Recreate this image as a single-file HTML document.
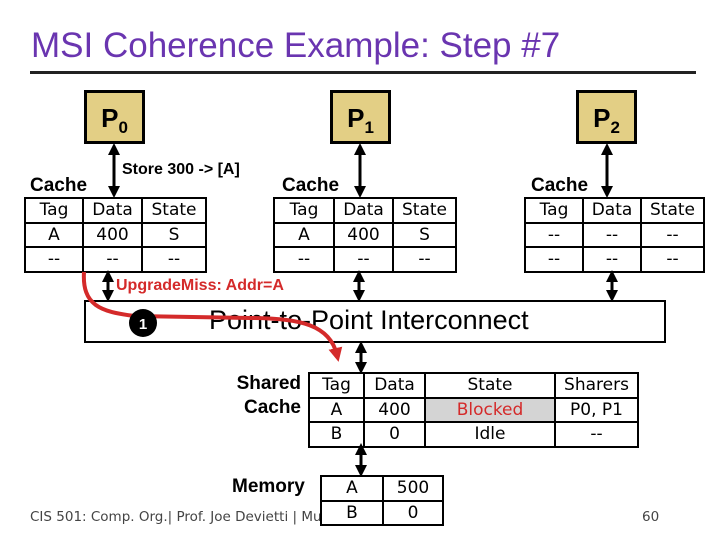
<!DOCTYPE html>
<html><head><style>
body{margin:0;width:720px;height:540px;background:#fff;position:relative;overflow:hidden;font-family:"DejaVu Sans","Liberation Sans",sans-serif}
.a{position:absolute}
.t{position:absolute;border-collapse:collapse;table-layout:fixed}
.t td{border:2px solid #000;text-align:center;font-size:17px;height:20px;padding:0;line-height:20px}
.t tr{height:24.5px}
.b{font-family:"Liberation Sans",sans-serif;font-weight:bold}
.p{position:absolute;background:#e3cf85;border:3px solid #000;box-sizing:border-box;width:61px;height:54px;font:bold 26px "Liberation Sans",sans-serif;text-align:center;line-height:50px}
.p sub{font-size:17px}
</style></head><body>
<div class="a" style="left:31px;top:26px;font:35px 'Liberation Sans',sans-serif;color:#6a35b0">MSI Coherence Example: Step #7</div>
<div class="a" style="left:30px;top:71px;width:666px;height:3px;background:#222"></div>
<div class="p" style="left:84px;top:90px">P<sub>0</sub></div>
<div class="p" style="left:330px;top:90px">P<sub>1</sub></div>
<div class="p" style="left:576px;top:90px">P<sub>2</sub></div>
<div class="a b" style="left:122px;top:161px;font-size:16px">Store 300 -&gt; [A]</div>
<div class="a b" style="left:30px;top:175px;font-size:19px">Cache</div>
<div class="a b" style="left:282px;top:175px;font-size:19px">Cache</div>
<div class="a b" style="left:531px;top:175px;font-size:19px">Cache</div>
<table class="t" style="left:24px;top:197px;width:181px"><col width="58"><col width="59"><col width="64">
<tr><td>Tag</td><td>Data</td><td>State</td></tr><tr><td>A</td><td>400</td><td>S</td></tr><tr><td>--</td><td>--</td><td>--</td></tr></table>
<table class="t" style="left:273px;top:197px;width:182px"><col width="60"><col width="59"><col width="63">
<tr><td>Tag</td><td>Data</td><td>State</td></tr><tr><td>A</td><td>400</td><td>S</td></tr><tr><td>--</td><td>--</td><td>--</td></tr></table>
<table class="t" style="left:524px;top:197px;width:179px"><col width="58"><col width="58"><col width="63">
<tr><td>Tag</td><td>Data</td><td>State</td></tr><tr><td>--</td><td>--</td><td>--</td></tr><tr><td>--</td><td>--</td><td>--</td></tr></table>
<div class="a b" style="left:116px;top:277px;font-size:16px;color:#d42a2a">UpgradeMiss: Addr=A</div>
<div class="a" style="left:84px;top:300px;width:582px;height:43px;border:2px solid #000;box-sizing:border-box"></div>
<div class="a" style="left:209px;top:305px;font:27px 'Liberation Sans',sans-serif">Point-to-Point Interconnect</div>
<div class="a b" style="left:230px;top:372px;font-size:19px;text-align:right;width:71px;line-height:24px">Shared<br>Cache</div>
<table class="t" style="left:308px;top:372px;width:329px"><col width="55"><col width="61"><col width="130"><col width="83">
<tr><td>Tag</td><td>Data</td><td>State</td><td>Sharers</td></tr>
<tr><td>A</td><td>400</td><td style="background:#d4d4d4;color:#d42a2a">Blocked</td><td>P0, P1</td></tr>
<tr><td>B</td><td>0</td><td>Idle</td><td>--</td></tr></table>
<div class="a" style="left:30px;top:509px;font-size:13.5px;color:#444">CIS 501: Comp. Org.| Prof. Joe Devietti | Mu</div>
<div class="a" style="left:642px;top:509px;font-size:13.5px;color:#444">60</div>
<div class="a b" style="left:232px;top:476px;font-size:19px">Memory</div>
<table class="t" style="left:320px;top:475px;width:122px;background:#fff"><col width="62"><col width="60">
<tr><td>A</td><td>500</td></tr><tr><td>B</td><td>0</td></tr></table>
<svg class="a" style="left:0;top:0" width="720" height="540">
<defs><marker id="h" viewBox="0 0 10 10" refX="5" refY="5" markerWidth="4" markerHeight="4" orient="auto-start-reverse"><path d="M0,0L10,5L0,10z" fill="#000"/></marker>
<marker id="r" viewBox="0 0 10 10" refX="5" refY="5" markerWidth="3.5" markerHeight="3.5" orient="auto"><path d="M0,0L10,5L0,10z" fill="#d42a2a"/></marker></defs>
<g stroke="#000" stroke-width="3" marker-start="url(#h)" marker-end="url(#h)">
<line x1="114" y1="149" x2="114" y2="192"/><line x1="360" y1="149" x2="360" y2="192"/><line x1="607" y1="149" x2="607" y2="192"/>
<line x1="108" y1="276" x2="108" y2="296"/><line x1="359" y1="276" x2="359" y2="296"/><line x1="612" y1="276" x2="612" y2="296"/>
<line x1="361" y1="347" x2="361" y2="368"/><line x1="361" y1="449" x2="361" y2="471"/></g>
<path d="M84,272 C82,305 100,312 135,316 L250,318 C300,318 330,325 337,355" fill="none" stroke="#d42a2a" stroke-width="4" marker-end="url(#r)"/>
<circle cx="143" cy="323" r="14" fill="#000"/>
<text x="143" y="329" fill="#fff" font-family="Liberation Sans" font-weight="bold" font-size="15" text-anchor="middle">1</text>
</svg>
</body></html>
